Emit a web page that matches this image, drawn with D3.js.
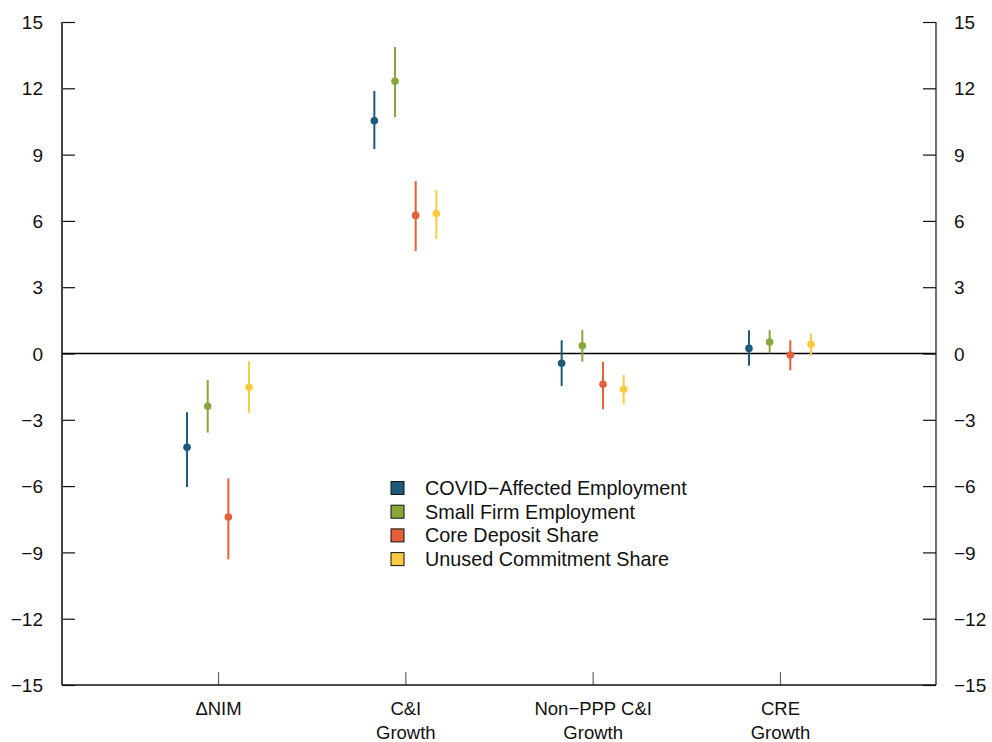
<!DOCTYPE html>
<html lang="en">
<head>
<meta charset="utf-8">
<title>Coefficient plot</title>
<script src="https://cdn.jsdelivr.net/npm/d3@7"></script>
<style>
  body { margin: 0; background: #fff; font-family: "Liberation Sans", Arial, Helvetica, sans-serif; }
  svg text { fill: #111; }
</style>
</head>
<body>
<script>
// categories and series
var categories = ["ΔNIM", "C&I|Growth", "Non\u2212PPP C&I|Growth", "CRE|Growth"];
var seriesNames = ["COVID\u2212Affected Employment", "Small Firm Employment", "Core Deposit Share", "Unused Commitment Share"];
var seriesColors = ["#1d5a79", "#86a83b", "#e3603a", "#fdc93e"];

// point estimates, one row per series, one value per category
var estimates = [
  [-4.24, 10.53, -0.44, 0.23],
  [-2.39, 12.32,  0.35, 0.52],
  [-7.40,  6.25, -1.39, -0.07],
  [-1.53,  6.33, -1.62, 0.42]
];
var lower = [
  [-6.04,  9.25, -1.47, -0.55],
  [-3.58, 10.70, -0.37,  0.01],
  [-9.31,  4.64, -2.52, -0.76],
  [-2.68,  5.19, -2.30, -0.10]
];
var upper = [
  [-2.66, 11.88,  0.60, 1.05],
  [-1.20, 13.87,  1.06, 1.06],
  [-5.65,  7.80, -0.38, 0.60],
  [-0.35,  7.40, -0.97, 0.90]
];
var yTicks = [-15, -12, -9, -6, -3, 0, 3, 6, 9, 12, 15];

var w = 992, h = 742;
var mLeft = 62, mRight = 936, mTop = 22, mBottom = 685;

var svg = d3.select("body").append("svg")
  .attr("width", w).attr("height", h);

var xScale = d3.scalePoint()
  .domain(categories)
  .range([mLeft, mRight])
  .padding(0.833);

var yScale = d3.scaleLinear()
  .domain([-15, 15])
  .range([mBottom, mTop]);

var offset = d3.scalePoint()
  .domain(d3.range(seriesNames.length))
  .range([-31, 31]);

var fmt = function(d) { return d < 0 ? "\u2212" + Math.abs(d) : String(d); };

// left axis
var yAxisL = d3.axisRight(yScale).tickValues(yTicks).tickSize(13).tickFormat("");
var gL = svg.append("g").attr("transform", "translate(" + mLeft + ",0)").call(yAxisL);
gL.select(".domain").remove();
gL.selectAll(".tick line").attr("stroke", "#111").attr("stroke-width", 1.2);
gL.selectAll(".tick").append("text")
  .attr("x", -19).attr("dy", "0.35em")
  .attr("text-anchor", "end")
  .style("font-size", "19px")
  .text(function(d) { return fmt(d); });

// right axis
var yAxisR = d3.axisLeft(yScale).tickValues(yTicks).tickSize(13).tickFormat("");
var gR = svg.append("g").attr("transform", "translate(" + mRight + ",0)").call(yAxisR);
gR.select(".domain").remove();
gR.selectAll(".tick line").attr("stroke", "#111").attr("stroke-width", 1.2);
gR.selectAll(".tick").append("text")
  .attr("x", 18).attr("dy", "0.35em")
  .attr("text-anchor", "start")
  .style("font-size", "19px")
  .text(function(d) { return fmt(d); });

// bottom axis
var xAxis = d3.axisTop(xScale).tickSize(13).tickFormat("");
var gB = svg.append("g").attr("transform", "translate(0," + mBottom + ")").call(xAxis);
gB.select(".domain").remove();
gB.selectAll(".tick line").attr("stroke", "#666").attr("stroke-width", 1.2);
gB.selectAll(".tick").each(function(d) {
  var lines = d.split("|");
  var t = d3.select(this);
  lines.forEach(function(s, i) {
    t.append("text")
      .attr("y", 24 + i * 24).attr("dy", "0.35em")
      .attr("text-anchor", "middle")
      .style("font-size", "18.5px")
      .text(s);
  });
});

// frame lines
svg.append("line").attr("x1", mLeft).attr("x2", mLeft).attr("y1", mTop).attr("y2", mBottom)
  .attr("stroke", "#444").attr("stroke-width", 2);
svg.append("line").attr("x1", mRight).attr("x2", mRight).attr("y1", mTop).attr("y2", mBottom)
  .attr("stroke", "#111").attr("stroke-width", 1.2);
svg.append("line").attr("x1", mLeft).attr("x2", mRight).attr("y1", mBottom).attr("y2", mBottom)
  .attr("stroke", "#111").attr("stroke-width", 1.5);

// zero line
svg.append("line").attr("x1", mLeft).attr("x2", mRight)
  .attr("y1", yScale(0)).attr("y2", yScale(0))
  .attr("stroke", "#000").attr("stroke-width", 1.3);

// error bars and points
seriesNames.forEach(function(name, s) {
  var g = svg.append("g");
  categories.forEach(function(c, i) {
    var x = xScale(c) + offset(s);
    g.append("line")
      .attr("x1", x).attr("x2", x)
      .attr("y1", yScale(lower[s][i])).attr("y2", yScale(upper[s][i]))
      .attr("stroke", seriesColors[s]).attr("stroke-width", 2);
    g.append("circle")
      .attr("cx", x).attr("cy", yScale(estimates[s][i]))
      .attr("r", 3.8)
      .attr("fill", seriesColors[s]);
  });
});

// legend
var legend = svg.append("g").attr("transform", "translate(391,488)");
seriesNames.forEach(function(name, s) {
  var row = legend.append("g").attr("transform", "translate(0," + (s * 23.7) + ")");
  row.append("rect")
    .attr("x", 0).attr("y", -6.5).attr("width", 13).attr("height", 13)
    .attr("fill", seriesColors[s]).attr("stroke", "#111").attr("stroke-width", 1);
  row.append("text")
    .attr("x", 34).attr("dy", "0.35em")
    .style("font-size", "19.8px")
    .text(name);
});
</script>
</body>
</html>
